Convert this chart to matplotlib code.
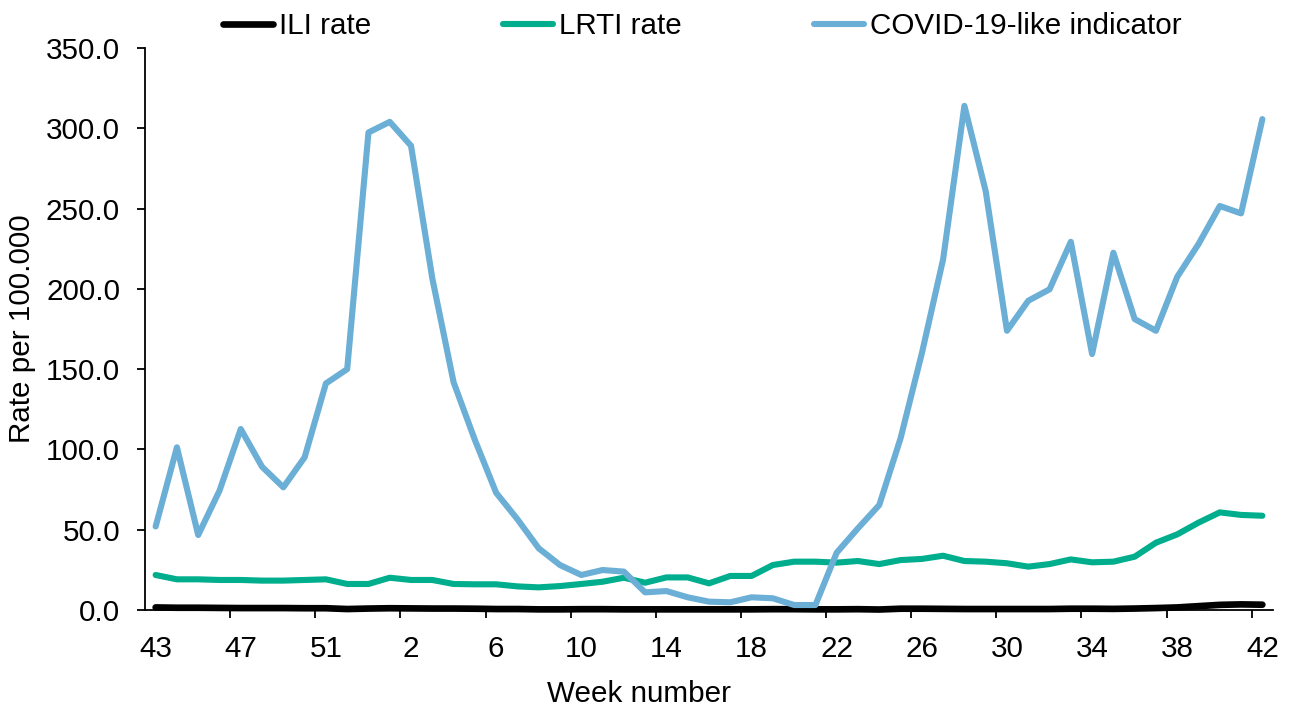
import matplotlib
matplotlib.use('Agg')
import matplotlib.pyplot as plt
import numpy as np

plt.rcParams['font.family'] = ['Liberation Sans', 'DejaVu Sans']

# week numbers: 2020 week 43 .. week 53, then 2021 week 1 .. 42
weeks = list(range(43, 54)) + list(range(1, 43))

ili = [1.6, 1.4, 1.4, 1.3, 1.2, 1.2, 1.2, 1.1, 1.1, 0.6,
       0.9, 1.1, 1.0, 0.9, 0.9, 0.8, 0.6, 0.6, 0.4, 0.4,
       0.5, 0.5, 0.4, 0.4, 0.4, 0.4, 0.4, 0.4, 0.4, 0.5,
       0.5, 0.4, 0.4, 0.5, 0.3, 0.8, 0.8, 0.7, 0.6, 0.6,
       0.6, 0.6, 0.6, 0.8, 0.8, 0.7, 0.9, 1.2, 1.6, 2.4,
       3.2, 3.5, 3.3]

lrti = [21.8, 19.1, 19.1, 18.7, 18.7, 18.3, 18.3, 18.7, 19.1, 16.2,
        16.2, 20.1, 18.7, 18.7, 16.2, 16.0, 16.0, 14.7, 14.1, 14.9,
        16.2, 17.6, 20.1, 17.0, 20.3, 20.3, 16.6, 21.2, 21.2, 28.0,
        30.1, 30.1, 29.5, 30.5, 28.6, 31.1, 31.8, 33.8, 30.5, 30.1,
        29.1, 27.0, 28.6, 31.5, 29.7, 30.1, 33.2, 41.9, 47.1, 54.4,
        60.8, 59.2, 58.7]

covid = [52.0, 101.3, 46.7, 74.3, 112.7, 89.2, 76.4, 95.1, 141.1, 150.0,
         297.4, 304.0, 289.1, 206.5, 141.8, 105.9, 73.0, 56.5, 38.4, 28.0,
         21.8, 24.9, 23.9, 11.0, 11.8, 7.9, 5.2, 4.8, 7.9, 7.3,
         3.1, 3.1, 35.7, 50.9, 65.4, 106.9, 159.8, 218.4, 314.0, 260.9,
         173.9, 192.6, 199.7, 229.3, 159.4, 222.5, 181.2, 173.9, 207.5, 227.9,
         251.6, 247.0, 305.7]

x = np.arange(len(weeks))
fs = 21.3

W, H = 1291, 713
fig = plt.figure(figsize=(W / 100, H / 100), dpi=100)
ax = fig.add_axes([145 / W, 1 - 610 / H, (1273 - 145) / W, (610 - 48) / H])

ax.plot(x, ili, color='black', lw=4.8, label='ILI rate', clip_on=False,
        solid_capstyle='round', solid_joinstyle='round')
ax.plot(x, lrti, color='#00ae8e', lw=4.4, label='LRTI rate', clip_on=False,
        solid_capstyle='round', solid_joinstyle='round')
ax.plot(x, covid, color='#6baed6', lw=4.4, label='COVID-19-like indicator',
        clip_on=False, solid_capstyle='round', solid_joinstyle='round')

ax.set_xlim(-0.5, len(weeks) - 0.5)
ax.set_ylim(0, 350)

ax.set_yticks(np.arange(0, 351, 50))
ax.set_yticklabels(['%.1f' % v for v in np.arange(0, 351, 50)])
ax.tick_params(axis='y', direction='out', length=6, width=1.3, pad=12, labelsize=fs)

ax.set_xticks(x[::4])
ax.set_xticklabels([str(w) for w in weeks[::4]])
ax.set_xticks(np.arange(3.5, len(weeks) - 1, 4), minor=True)
ax.tick_params(axis='x', which='major', length=0, pad=18, labelsize=fs)
ax.tick_params(axis='x', which='minor', direction='out', length=6, width=1.3)

for s in ['top', 'right']:
    ax.spines[s].set_visible(False)
for s in ['left', 'bottom']:
    ax.spines[s].set_linewidth(1.3)

ax.set_ylabel('Rate per 100.000', fontsize=fs)
ax.yaxis.set_label_coords((36 - 145) / (1273 - 145), 0.5)
fig.text(639 / W, 1 - 694 / H, 'Week number', fontsize=fs, ha='center', va='center')

leg = ax.legend(loc='center', bbox_to_anchor=(0.494, 1 + 22 / (610 - 48)), ncol=3,
                frameon=False, fontsize=fs, handlelength=1.7, handletextpad=0.2,
                columnspacing=4.45, borderpad=0, borderaxespad=0)

fig.savefig('out.png', dpi=100)
